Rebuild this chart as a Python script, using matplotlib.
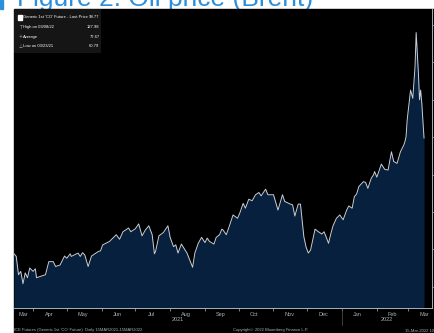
"""Brent front-month price, Bloomberg-style dark area chart (Figure 2)."""

import matplotlib
matplotlib.use("Agg")
import matplotlib.pyplot as plt
import matplotlib.transforms as mtransforms
from matplotlib.patches import Rectangle
import pandas as pd

# --- data ------------------------------------------------------------------
START = pd.Timestamp("2021-03-15")
day = [0, 2, 4, 6, 8, 10, 12, 14, 17, 19, 20, 23, 28, 31, 35, 37, 41, 45, 47,
       50, 51, 57, 59, 61, 63, 66, 69, 75, 77, 79, 85, 91, 94, 97, 102, 104,
       108, 111, 114, 117, 120, 123, 125, 126, 129, 133, 137, 139, 142, 144,
       146, 149, 154, 159, 161, 164, 167, 170, 172, 174, 178, 180, 183, 185,
       186, 189, 192, 195, 199, 201, 204, 206, 209, 212, 215, 218, 220, 224,
       226, 231, 235, 239, 241, 246, 248, 250, 253, 255, 258, 260, 262, 264,
       268, 271, 274, 276, 278, 280, 282, 284, 287, 290, 293, 296, 298, 301,
       303, 305, 307, 311, 313, 315, 318, 320, 321, 323, 327, 330, 333, 336,
       338, 341, 344, 347, 348, 349, 350, 352, 353, 355, 357, 358, 360, 361,
       362, 363, 365]
price = [68.8, 68.1, 63.2, 64.1, 60.8, 63.7, 62.4, 65.0, 64.1, 64.8, 62.4,
         62.7, 63.2, 66.7, 66.7, 65.4, 65.8, 68.2, 67.6, 68.8, 68.1, 69.0,
         68.1, 69.1, 68.5, 65.4, 68.2, 69.4, 69.6, 71.2, 72.1, 73.9, 72.7,
         74.7, 75.7, 74.7, 75.5, 76.8, 73.6, 75.2, 76.3, 73.9, 68.8, 69.4,
         73.6, 74.5, 76.3, 73.2, 70.7, 71.2, 69.0, 71.4, 69.0, 65.2, 69.0,
         71.6, 73.2, 71.8, 73.0, 72.1, 71.4, 73.2, 73.9, 75.4, 75.2, 73.9,
         76.5, 79.2, 78.3, 79.7, 82.3, 81.0, 83.4, 83.0, 84.6, 85.2, 84.3,
         86.1, 84.6, 84.6, 80.5, 84.6, 82.8, 82.1, 81.9, 78.9, 82.1, 82.1,
         73.4, 70.6, 69.0, 69.8, 75.4, 74.7, 74.1, 74.7, 73.2, 71.6, 74.1,
         76.3, 78.3, 79.2, 77.9, 80.4, 81.6, 81.0, 84.1, 84.8, 86.8, 88.1,
         87.9, 86.3, 89.0, 89.9, 90.8, 89.3, 92.8, 91.4, 91.2, 96.1, 93.5,
         93.0, 96.1, 97.9, 98.8, 100.1, 104.6, 110.0, 112.6, 110.4, 118.9,
         127.98, 117.1, 110.0, 112.6, 109.1, 99.77]

legend_rows = [
    ("Generic 1st 'CO' Future - Last Price", "99.77"),
    ("High on 03/08/22", "127.98"),
    ("Average", "77.67"),
    ("Low on 03/23/21", "60.79"),
]
y_ticks = [60, 70, 80, 90, 100, 110, 120, 130]
last_price = 99.77

# --- styling ----------------------------------------------------------------
NAVY = "#06203d"
LINE = "#c9ced6"
GREY = "#a9b0ba"
BLUE = "#2b8fdc"
NARROW = ["Liberation Sans Narrow", "Liberation Sans", "DejaVu Sans"]

W, H = 435, 333
fig = plt.figure(figsize=(W / 100, H / 100), dpi=100, facecolor="white")


def fx(px): return px / W
def fy(py): return 1 - py / H


# title sits behind the black chart panel, so only its upper part shows
fig.text(fx(17), fy(6), "Figure 2: Oil price (Brent)", color=BLUE,
         fontsize=19, family="Liberation Sans", va="baseline", zorder=-3)
fig.add_artist(Rectangle((0, fy(9)), fx(3), 1 - fy(9), color=BLUE,
                         transform=fig.transFigure, zorder=-3))
fig.add_artist(Rectangle((fx(14), 0), 1 - fx(14), fy(9), color="black",
                         transform=fig.transFigure, zorder=-2))

ax = fig.add_axes([fx(14), fy(308), fx(431.7) - fx(14), fy(9) - fy(308)])
ax.set_facecolor("black")

dates = START + pd.to_timedelta(day, unit="D")
ymin, ymax = 54.3, 134.3
ax.fill_between(dates, price, ymin, color=NAVY, lw=0)
ax.plot(dates, price, color=LINE, lw=0.7)
ax.set_xlim(START, pd.Timestamp("2022-03-21 20:00"))
ax.set_ylim(ymin, ymax)

for side in ("left", "top"):
    ax.spines[side].set_visible(False)
for side in ("bottom", "right"):
    ax.spines[side].set_color(GREY)
    ax.spines[side].set_linewidth(0.7)

# right-hand price axis (labels get clipped by the image edge)
ax.yaxis.tick_right()
ax.set_yticks(y_ticks)
ax.set_yticklabels([str(v) for v in y_ticks])
ax.tick_params(axis="y", colors=GREY, labelsize=4, length=2, width=0.5, pad=1)

# month ticks at boundaries, month names mid-month
month_starts = pd.date_range("2021-04-01", "2022-03-01", freq="MS")
ax.set_xticks(month_starts)
ax.set_xticklabels([])
ax.tick_params(axis="x", which="major", colors=GREY, length=2, width=0.5)
label_dates = [pd.Timestamp("2021-03-23")] + list(
    month_starts + pd.Timedelta(days=14))
ax.set_xticks(label_dates, minor=True)
ax.set_xticklabels([d.strftime("%b") for d in label_dates], minor=True,
                   fontsize=4, color=GREY, family=NARROW)
ax.tick_params(axis="x", which="minor", length=0, pad=3)

# year row + separator
trans = mtransforms.blended_transform_factory(ax.transData, ax.transAxes)
jan1 = pd.Timestamp("2022-01-01")
ax.plot([jan1, jan1], [-0.005, -0.058], color="#555555", lw=0.5,
        transform=trans, clip_on=False)
for yr, a, b in [("2021", START, jan1),
                 ("2022", jan1, pd.Timestamp("2022-03-21"))]:
    ax.text(a + (b - a) / 2, -0.04, yr, transform=trans, ha="center",
            va="center", fontsize=4, color=GREY, family=NARROW)

# last-price tag on the axis
ax.annotate(f"{last_price:.2f}", xy=(1, last_price), xycoords=trans,
            xytext=(2, 0), textcoords="offset points", ha="left", va="center",
            fontsize=4.5, color="black", family=NARROW, annotation_clip=False,
            bbox=dict(boxstyle="round,pad=0.3", fc="white", ec="none"))

# legend panel
leg = fig.add_axes([fx(14), fy(53), fx(100.7) - fx(14), fy(9) - fy(53)])
leg.set_facecolor("#151515")
leg.set_xticks([]); leg.set_yticks([])
leg.set_xlim(0, 86.7); leg.set_ylim(44, 0)
for s in leg.spines.values():
    s.set_visible(False)
marks = ["", "T", "+", "\u22a5"]
for i, (name, val) in enumerate(legend_rows):
    yy = 8.5 + i * 9.6
    if i == 0:
        leg.add_patch(Rectangle((4.5, yy - 2.3), 3.5, 4.6, color="white"))
    else:
        leg.text(6.2, yy, marks[i], color=GREY, fontsize=3.3,
                 ha="center", va="center", family="DejaVu Sans")
    leg.text(9.3, yy, name, color="white", fontsize=3.0, va="center",
             family=NARROW)
    leg.text(85.5, yy, val, color="white", fontsize=3.0, va="center",
             ha="right", family=NARROW)

# footer
fig.text(fx(14), fy(330.5),
         "ICE Futures (Generic 1st 'CO' Future)  Daily 15MAR2021-15MAR2022",
         color=GREY, fontsize=3, va="center", family=NARROW)
fig.text(fx(233), fy(330.5), "Copyright\u00a9 2022 Bloomberg Finance L.P.",
         color=GREY, fontsize=3, va="center", family=NARROW)
fig.text(fx(405), fy(330.5), "15-Mar-2022 10:52:11", color=GREY,
         fontsize=3, va="center", family=NARROW)

fig.savefig("out.png", dpi=100, facecolor="white")
